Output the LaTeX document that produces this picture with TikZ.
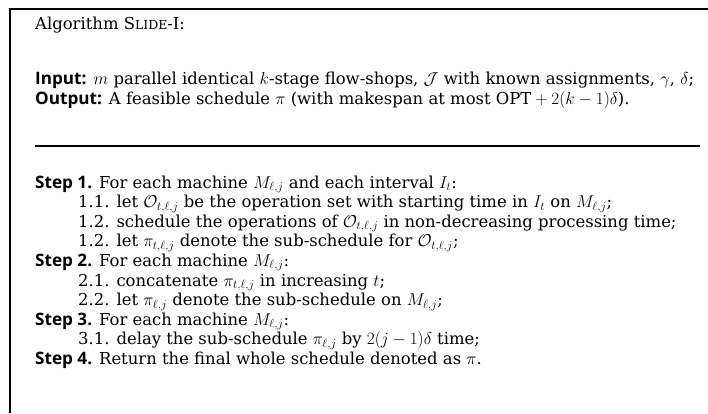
\documentclass[tikz,border=0pt]{standalone}
\usepackage{amsmath,amssymb}
\usepackage{fontspec}
\setmainfont{DejaVu Serif}
\newfontfamily\labfont{Open Sans}
\newcommand{\lab}[1]{{\labfont\bfseries\fontsize{17.2}{20}\selectfont #1}}
\usetikzlibrary{positioning}

\begin{document}
\begin{tikzpicture}[
  x=1bp, y=-1bp,
  line/.style={anchor=base west, inner sep=0pt, font=\fontsize{16.5}{20}\selectfont},
  frame/.style={line width=2bp, black},
  sepbar/.style={line width=2bp, black},
]

% Page
\useasboundingbox (0,0) rectangle (708,413);

% Frame (top and left edges only)
\draw[frame] (10,413) |- (708,8.5);

% ---- Header ----
\node[line] (title) at (35,29.5)
  {Algorithm S{\fontsize{12.5}{14}\selectfont LIDE}-I:};

\node[line] (input) at (35,84.5)
  {\lab{Input:} $m$ parallel identical $k$-stage flow-shops, $\mathcal{J}$ with known assignments, $\gamma$, $\delta$;};
\node[line] (output) at (35,104)
  {\lab{Output:} A feasible schedule $\pi$ (with makespan at most $\mathrm{OPT}+2(k-1)\delta$).};

% ---- Divider ----
\draw[sepbar] (35,145.7) -- (700,145.7);

% ---- Steps ----
\node[line] (s1) at (35,188)
  {\lab{Step 1.} For each machine $M_{\ell,j}$ and each interval $I_t$:};
\node[line] (s11) at (78,207.6)
  {1.1. let $\mathcal{O}_{t,\ell,j}$ be the operation set with starting time in $I_t$ on $M_{\ell,j}$;};
\node[line] (s12) at (78,227.2)
  {1.2. schedule the operations of $\mathcal{O}_{t,\ell,j}$ in non-decreasing processing time;};
\node[line] (s13) at (78,246.8)
  {1.2. let $\pi_{t,\ell,j}$ denote the sub-schedule for $\mathcal{O}_{t,\ell,j}$;};

\node[line] (s2) at (35,266.4)
  {\lab{Step 2.} For each machine $M_{\ell,j}$:};
\node[line] (s21) at (78,286)
  {2.1. concatenate $\pi_{t,\ell,j}$ in increasing $t$;};
\node[line] (s22) at (78,305.6)
  {2.2. let $\pi_{\ell,j}$ denote the sub-schedule on $M_{\ell,j}$;};

\node[line] (s3) at (35,325.2)
  {\lab{Step 3.} For each machine $M_{\ell,j}$:};
\node[line] (s31) at (78,344.8)
  {3.1. delay the sub-schedule $\pi_{\ell,j}$ by $2(j-1)\delta$ time;};

\node[line] (s4) at (35,364.4)
  {\lab{Step 4.} Return the final whole schedule denoted as $\pi$.};

\end{tikzpicture}
\end{document}
